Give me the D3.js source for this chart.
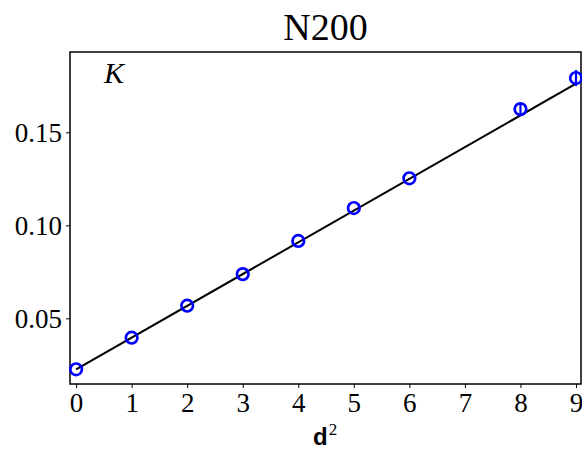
<!DOCTYPE html>
<html><head><meta charset="utf-8">
<script src="https://cdn.jsdelivr.net/npm/d3@7"></script>
<style>body{margin:0;background:#fff}svg{display:block}</style>
</head><body>
<script>
const xValues = [0, 1, 2, 3, 4, 5, 6, 8, 9];
const kValues = [0.0226, 0.0396, 0.0568, 0.0738, 0.0916, 0.1093, 0.1253, 0.1625, 0.1792];
const kErrors = [0, 0, 0, 0, 0, 0, 0, 0.0033, 0.0043];
const fitX = [0, 9];
const fitY = [0.0226, 0.1762];
const xTicks = [0, 1, 2, 3, 4, 5, 6, 7, 8, 9];
const yTicks = [0.05, 0.10, 0.15];
const title = "N200";
const panelLabel = "K";

const W = 582, H = 451;
const m = {left: 70, top: 52, right: 1, bottom: 67};
const svg = d3.select("body").append("svg").attr("width", W).attr("height", H);
const x = d3.scaleLinear().domain([-0.11, 9.09]).range([m.left, W - m.right]);
const y = d3.scaleLinear().domain([0.0147, 0.1932]).range([H - m.bottom, m.top]);
const serif = "'Liberation Serif', 'DejaVu Serif', serif";

// axes
const xa = svg.append("g").attr("transform", `translate(0,${H - m.bottom})`)
  .call(d3.axisBottom(x).tickValues(xTicks).tickSize(4).tickPadding(5).tickFormat(d3.format("d")));
const ya = svg.append("g").attr("transform", `translate(${m.left},0)`)
  .call(d3.axisLeft(y).tickValues(yTicks).tickSize(4).tickPadding(4).tickFormat(d3.format(".2f")));
[xa, ya].forEach(g => {
  g.select(".domain").remove();
  g.selectAll(".tick line").attr("stroke", "#000").attr("stroke-width", 1);
  g.selectAll(".tick text").attr("fill", "#000").style("font-family", serif).style("font-size", "27px");
});
ya.selectAll(".tick text").attr("dy", "0.33em");
xa.selectAll(".tick text").attr("dy", "0.72em");

// frame
svg.append("rect").attr("x", m.left).attr("y", m.top)
  .attr("width", W - m.right - m.left).attr("height", H - m.bottom - m.top)
  .attr("fill", "none").attr("stroke", "#000").attr("stroke-width", 1.5);

const plot = svg.append("g");
// fit line
plot.append("path").datum(fitX.map((d, i) => [d, fitY[i]]))
  .attr("d", d3.line().x(d => x(d[0])).y(d => y(d[1])))
  .attr("fill", "none").attr("stroke", "#000").attr("stroke-width", 2);

// error bars
plot.selectAll("line.err").data(xValues.map((d, i) => ({x: d, y: kValues[i], e: kErrors[i]})).filter(d => d.e > 0))
  .join("line").attr("class", "err")
  .attr("x1", d => x(d.x)).attr("x2", d => x(d.x))
  .attr("y1", d => y(d.y - d.e)).attr("y2", d => y(d.y + d.e))
  .attr("stroke", "#0000ff").attr("stroke-width", 2.2);

// points
plot.selectAll("circle").data(xValues.map((d, i) => ({x: d, y: kValues[i]})))
  .join("circle").attr("cx", d => x(d.x)).attr("cy", d => y(d.y)).attr("r", 5.8)
  .attr("fill", "none").attr("stroke", "#0000ff").attr("stroke-width", 2.7);

// title
svg.append("text").attr("x", (m.left + W - m.right) / 2).attr("y", 40)
  .attr("text-anchor", "middle").style("font-family", serif).style("font-size", "38px")
  .text(title);

// panel label
svg.append("text").attr("x", 104).attr("y", 83)
  .style("font-family", serif).style("font-style", "italic").style("font-size", "30px")
  .text(panelLabel);

// x label
const xl = svg.append("text").attr("x", 313).attr("y", 445);
xl.append("tspan").style("font-family", "'Liberation Sans', Arial, sans-serif").style("font-weight", "bold").style("font-size", "24px").text("d");
xl.append("tspan").attr("dy", -10).attr("dx", 1).style("font-family", serif).style("font-size", "17px").text("2");
</script>
</body></html>
